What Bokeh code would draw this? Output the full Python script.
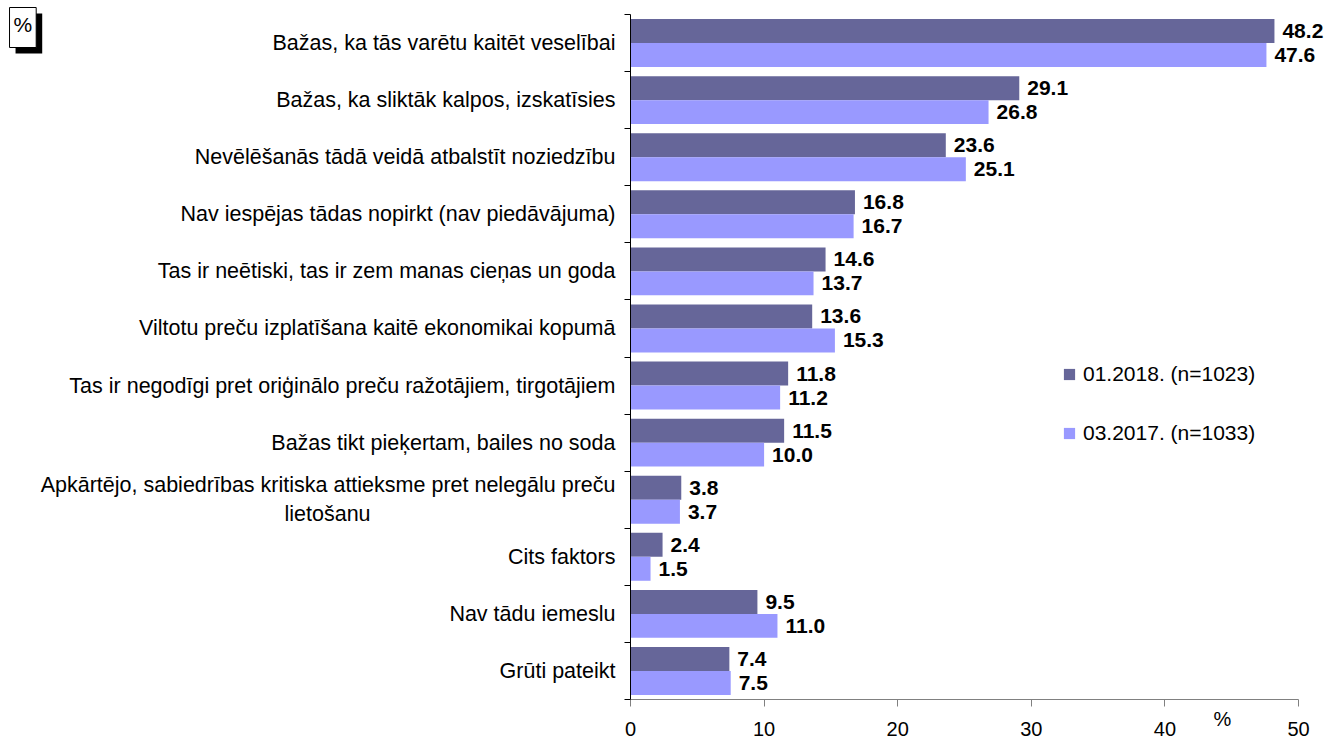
from bokeh.plotting import figure
from bokeh.models import (Range1d, FixedTicker, ColumnDataSource, LabelSet, Label,
                          Legend, LegendItem)
from bokeh.transform import dodge
from bokeh.core.properties import value
from bokeh.embed import file_html
from bokeh.resources import INLINE

NBSP = "\u00a0"
categories = [
    "Bažas, ka tās varētu kaitēt veselībai",
    "Bažas, ka sliktāk kalpos, izskatīsies",
    "Nevēlēšanās tādā veidā atbalstīt noziedzību",
    "Nav iespējas tādas nopirkt (nav piedāvājuma)",
    "Tas ir neētiski, tas ir zem manas cieņas un goda",
    "Viltotu preču izplatīšana kaitē ekonomikai kopumā",
    "Tas ir negodīgi pret oriģinālo preču ražotājiem, tirgotājiem",
    "Bažas tikt pieķertam, bailes no soda",
    "Apkārtējo, sabiedrības kritiska attieksme pret nelegālu preču\nlietošanu",
    "Cits faktors",
    "Nav tādu iemeslu",
    "Grūti pateikt",
]
series_names = ["01.2018. (n=1023)", "03.2017. (n=1033)"]
values_2018 = [48.2, 29.1, 23.6, 16.8, 14.6, 13.6, 11.8, 11.5, 3.8, 2.4, 9.5, 7.4]
values_2017 = [47.6, 26.8, 25.1, 16.7, 13.7, 15.3, 11.2, 10.0, 3.7, 1.5, 11.0, 7.5]
x_ticks = [0, 10, 20, 30, 40, 50]
x_max = 50

DARK = "#666699"
LIGHT = "#9999FF"
FONT = "Liberation Sans"

n = len(categories)
centers = [i + 0.5 for i in range(n)]
bounds = [float(i) for i in range(n + 1)]

# visual centring of the second line of the wrapped label
axis_labels = [c.replace("\nlietošanu", "\nlietošanu" + NBSP * 41) for c in categories]

src = ColumnDataSource(dict(
    y=centers,
    v18=values_2018,
    v17=values_2017,
    t18=[f"{v:.1f}" for v in values_2018],
    t17=[f"{v:.1f}" for v in values_2017],
))

# canvas layout: value axis 0..50 spans px 630..1298, categories span px 14..699
W, H = 1325, 738
PX_L, PX_R, PX_T, PX_B = 630, 1298, 14, 699
sx = (PX_R - PX_L) / x_max
sy = (PX_B - PX_T) / n
x_range = Range1d(-PX_L / sx, x_max + (W - PX_R) / sx)
y_range = Range1d(n + (H - PX_B) / sy, -PX_T / sy)

p = figure(width=W, height=H, output_backend="svg", toolbar_location=None,
           x_range=x_range, y_range=y_range,
           min_border_left=0, min_border_right=0, min_border_top=0,
           min_border_bottom=0)
p.outline_line_color = None
p.xgrid.visible = False
p.ygrid.visible = False
p.background_fill_color = "white"
p.border_fill_color = "white"

bh = 0.42
r18 = p.hbar(y=dodge("y", -bh / 2), right="v18", left=0, height=bh, source=src,
             fill_color=DARK, line_color=None)
r17 = p.hbar(y=dodge("y", bh / 2), right="v17", left=0, height=bh, source=src,
             fill_color=LIGHT, line_color=None)

for col, off in (("18", -bh / 2), ("17", bh / 2)):
    ls = LabelSet(x="v" + col, y=dodge("y", off), text="t" + col, source=src,
                  x_offset=8, text_baseline="middle", text_align="left",
                  text_font=value(FONT), text_font_size="21px",
                  text_font_style="bold", text_color="black")
    p.add_layout(ls)

# y axis (category axis at value 0)
ya = p.yaxis[0]
ya.fixed_location = 0
ya.bounds = (0, n)
ya.ticker = FixedTicker(ticks=centers, minor_ticks=bounds)
ya.major_label_overrides = {c: lab for c, lab in zip(centers, axis_labels)}
ya.major_tick_line_color = None
ya.major_tick_out = 0
ya.major_tick_in = 0
ya.minor_tick_line_color = "black"
ya.minor_tick_out = 6
ya.minor_tick_in = 0
ya.axis_line_color = "black"
ya.major_label_standoff = 9
ya.major_label_text_font = FONT
ya.major_label_text_font_size = "21.5px"
ya.major_label_text_color = "black"

# x axis (value axis at bottom of last category)
xa = p.xaxis[0]
xa.fixed_location = n
xa.bounds = (0, x_max)
xa.ticker = FixedTicker(ticks=x_ticks)
xa.axis_line_color = "#808080"
xa.major_tick_line_color = "#808080"
xa.minor_tick_line_color = None
xa.major_tick_out = 7
xa.major_tick_in = 0
xa.major_label_standoff = 15
xa.major_label_text_font = FONT
xa.major_label_text_font_size = "20px"
xa.major_label_text_color = "black"

legend = Legend(items=[LegendItem(label=series_names[0], renderers=[r18]),
                       LegendItem(label=series_names[1], renderers=[r17])],
                location=(1062, 293), orientation="vertical",
                glyph_width=14, glyph_height=14, label_height=24,
                spacing=35, padding=0, margin=0, label_standoff=7,
                border_line_color=None, background_fill_alpha=0,
                label_text_font=FONT, label_text_font_size="21px",
                label_text_color="black")
p.add_layout(legend)

# "%" unit next to the x axis
p.add_layout(Label(x=44.31, y=12.34, text="%",
                   text_align="center", text_baseline="middle",
                   text_font=FONT, text_font_size="20px", text_color="black"))

# "%" box with shadow at top-left
p.add_layout(Label(x=-46.03, y=-0.0175, text="%",
                   text_align="left", text_baseline="top",
                   text_font=FONT, text_font_size="21px", text_color="black",
                   background_fill_color="black",
                   padding=dict(left=4, right=4, top=5, bottom=12)))
p.add_layout(Label(x=-46.48, y=-0.1226, text="%",
                   text_align="left", text_baseline="top",
                   text_font=FONT, text_font_size="21px", text_color="black",
                   background_fill_color="white", border_line_color="black",
                   border_line_width=1,
                   padding=dict(left=4, right=4, top=5, bottom=12)))

open("out.html", "w").write(file_html(p, INLINE))
